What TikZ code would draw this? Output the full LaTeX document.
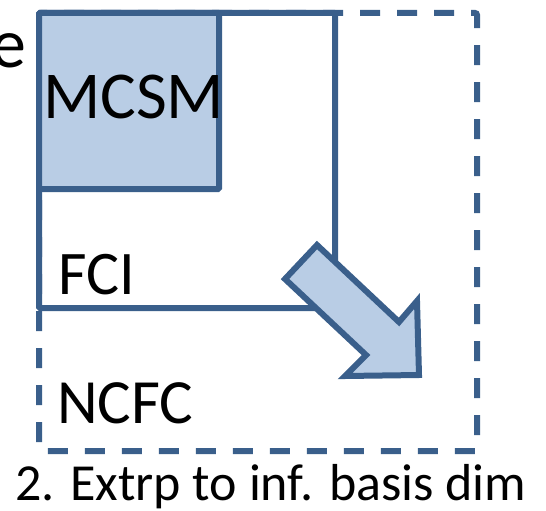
\documentclass[tikz,border=0pt]{standalone}
\usepackage{fontspec}
\setmainfont{Carlito}
\usepackage{tikz}
\usetikzlibrary{positioning}
\definecolor{boxline}{HTML}{3A5F8B}
\definecolor{boxfill}{HTML}{B9CDE5}
\tikzset{
  ncfcbox/.style={draw=boxline, line width=6pt, dash pattern=on 20pt off 17pt,
                  rounded corners=2pt},
  fcibox/.style ={draw=boxline, line width=6pt, rounded corners=1pt},
  mcsmbox/.style={draw=boxline, fill=boxfill, line width=6pt, rounded corners=1pt},
  bigarrow/.style={draw=boxline, fill=boxfill, line width=6pt, line join=miter},
  lbl/.style    ={inner sep=0pt, anchor=base west, text=black},
}
\newcommand{\bigfont}[1]{\fontsize{#1}{#1}\selectfont}

\begin{document}
\begin{tikzpicture}[x=1pt, y=-1pt]
  \useasboundingbox (0,0) rectangle (546,511);
  % the three spaces, nested
  \draw[ncfcbox] (39,13) rectangle (477,451);
  \draw[fcibox]  (39,13) rectangle (335,308);
  \draw[mcsmbox] (39,13) rectangle (219,189);
  % extrapolation arrow
  \draw[bigarrow] (317,245) -- (399,322) -- (417,301) -- (419,375)
    -- (345,376) -- (366,355) -- (285,279) -- cycle;
  % labels
  \node[lbl, anchor=base east] (cut) at (27,67) {\bigfont{70}e};
  \node[lbl] (mcsm) at (43,118) {\bigfont{67}MCSM};
  \node[lbl] (fci)  at (58,294) {\bigfont{62}FCI};
  \node[lbl] (ncfc) at (57,423) {\bigfont{63}NCFC};
  \node[lbl] (step) at (15,500) {\bigfont{52}2. Extrp to inf. basis dim};
\end{tikzpicture}
\end{document}
